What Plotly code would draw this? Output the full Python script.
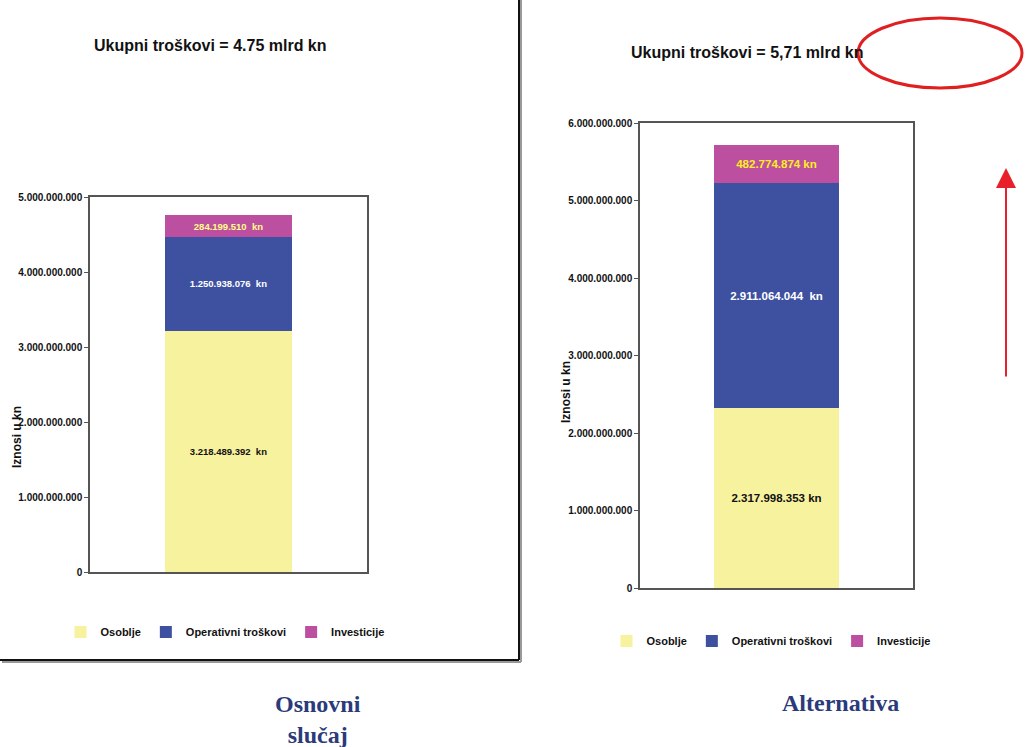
import plotly.graph_objects as go

categories = ["Osoblje", "Operativni troškovi", "Investicije"]
osnovni = [3218489392, 1250938076, 284199510]
alternativa = [2317998353, 2911064044, 482774874]
left_ticks = [0, 1000000000, 2000000000, 3000000000, 4000000000, 5000000000]
right_ticks = [0, 1000000000, 2000000000, 3000000000, 4000000000, 5000000000, 6000000000]
title_left = "Ukupni troškovi = 4.75 mlrd kn"
title_right = "Ukupni troškovi = 5,71 mlrd kn"
case_left = "Osnovni<br>slučaj"
case_right = "Alternativa"
axis_title = "Iznosi u kn"

W, H = 1029, 747
colors = ["#F7F29E", "#3D51A0", "#BC4F9F"]
left_text_colors = ["#111111", "#FFFFFF", "#FFFF88"]
right_text_colors = ["#111111", "#FFFFFF", "#FFEE22"]
SANS = "Liberation Sans Narrow, Arial Narrow, Liberation Sans, Arial"
SERIF = "Liberation Serif, DejaVu Serif"

def fmt(v):
    return f"{v:,}".replace(",", ".")

def px(x):
    return x / W

def py(y):
    return (H - y) / H

fig = go.Figure()

for i, cat in enumerate(categories):
    fig.add_trace(go.Bar(
        x=["A"], y=[osnovni[i]], name=cat,
        marker=dict(color=colors[i], line=dict(width=0)),
        width=0.46,
        text=[fmt(osnovni[i]) + "\u00a0\u00a0kn"],
        textposition="inside", insidetextanchor="middle",
        textangle=0, constraintext="none",
        textfont=dict(family=SANS, size=9.5, color=left_text_colors[i], weight="bold"),
        xaxis="x", yaxis="y", legend="legend", hoverinfo="skip",
    ))
for i, cat in enumerate(categories):
    fig.add_trace(go.Bar(
        x=["A"], y=[alternativa[i]], name=cat,
        marker=dict(color=colors[i], line=dict(width=0)),
        width=0.46,
        text=[fmt(alternativa[i]) + ("\u00a0\u00a0kn" if i == 1 else " kn")],
        textposition="inside", insidetextanchor="middle",
        textangle=0, constraintext="none",
        textfont=dict(family=SANS, size=11.5, color=right_text_colors[i], weight="bold"),
        xaxis="x2", yaxis="y2", legend="legend2", hoverinfo="skip",
    ))

axis_common = dict(showgrid=False, zeroline=False, showline=True, mirror=True,
                   linecolor="#555555", linewidth=1.5)
ytick_font = dict(family=SANS, size=10, color="#111111", weight="bold")
legend_font = dict(family=SANS, size=11, color="#111111", weight="bold")

fig.update_layout(
    width=W, height=H,
    margin=dict(l=0, r=0, t=0, b=0, autoexpand=False),
    paper_bgcolor="white", plot_bgcolor="white",
    barmode="stack",
    showlegend=True,
    xaxis=dict(domain=[px(90), px(367)], range=[-0.5, 0.5], showticklabels=False,
               ticks="", anchor="y", **axis_common),
    yaxis=dict(domain=[py(572), py(197)], range=[0, 5000000000], tickvals=left_ticks,
               ticktext=[fmt(v) for v in left_ticks], ticks="outside", ticklen=4,
               tickcolor="#555555", tickfont=ytick_font, anchor="x", **axis_common),
    xaxis2=dict(domain=[px(640), px(913)], range=[-0.5, 0.5], showticklabels=False,
                ticks="", anchor="y2", **axis_common),
    yaxis2=dict(domain=[py(588), py(123)], range=[0, 6000000000], tickvals=right_ticks,
                ticktext=[fmt(v) for v in right_ticks], ticks="outside", ticklen=4,
                tickcolor="#555555", tickfont=ytick_font, anchor="x2", **axis_common),
    legend=dict(orientation="h", x=px(225), y=py(632), xanchor="center", yanchor="middle",
                font=legend_font, itemwidth=30, traceorder="normal",
                bgcolor="rgba(0,0,0,0)", tracegroupgap=0),
    legend2=dict(orientation="h", x=px(771), y=py(641), xanchor="center", yanchor="middle",
                 font=legend_font, itemwidth=30, traceorder="normal",
                 bgcolor="rgba(0,0,0,0)", tracegroupgap=0),
)

def ann(text, x, y, size, family, color="#111111", angle=0):
    return dict(text=text, x=px(x), y=py(y), xref="paper", yref="paper", showarrow=False,
                xanchor="center", yanchor="middle", textangle=angle,
                font=dict(family=family, size=size, color=color, weight="bold"))

annotations = [
    ann(title_left, 210, 46, 16, SANS),
    ann(title_right, 747, 53, 16, SANS),
    ann(axis_title, 17, 437, 12, SANS, angle=-90),
    ann(axis_title, 566, 392, 12, SANS, angle=-90),
    ann(case_left, 318, 719, 24, SERIF, color="#2B3A7A"),
    ann(case_right, 840, 703, 24, SERIF, color="#2B3A7A"),
    dict(text="", x=px(1006), y=py(168), xref="paper", yref="paper", showarrow=True,
         ax=0, ay=210, arrowcolor="#E8202A", arrowwidth=2, arrowhead=2, arrowsize=2),
]
fig.update_layout(annotations=annotations)

shapes = [
    dict(type="line", xref="paper", yref="paper", x0=px(521), x1=px(521), y0=py(0), y1=py(662),
         line=dict(color="#999999", width=2)),
    dict(type="line", xref="paper", yref="paper", x0=px(2), x1=px(521), y0=py(662), y1=py(662),
         line=dict(color="#999999", width=2)),
    dict(type="line", xref="paper", yref="paper", x0=px(519), x1=px(519), y0=py(0), y1=py(660),
         line=dict(color="#111111", width=2)),
    dict(type="line", xref="paper", yref="paper", x0=px(0), x1=px(519), y0=py(660), y1=py(660),
         line=dict(color="#111111", width=2)),
    dict(type="circle", xref="paper", yref="paper", x0=px(858), x1=px(1022), y0=py(88), y1=py(18),
         line=dict(color="#E02020", width=3)),
]
fig.update_layout(shapes=shapes)

fig.write_html("out.html")
